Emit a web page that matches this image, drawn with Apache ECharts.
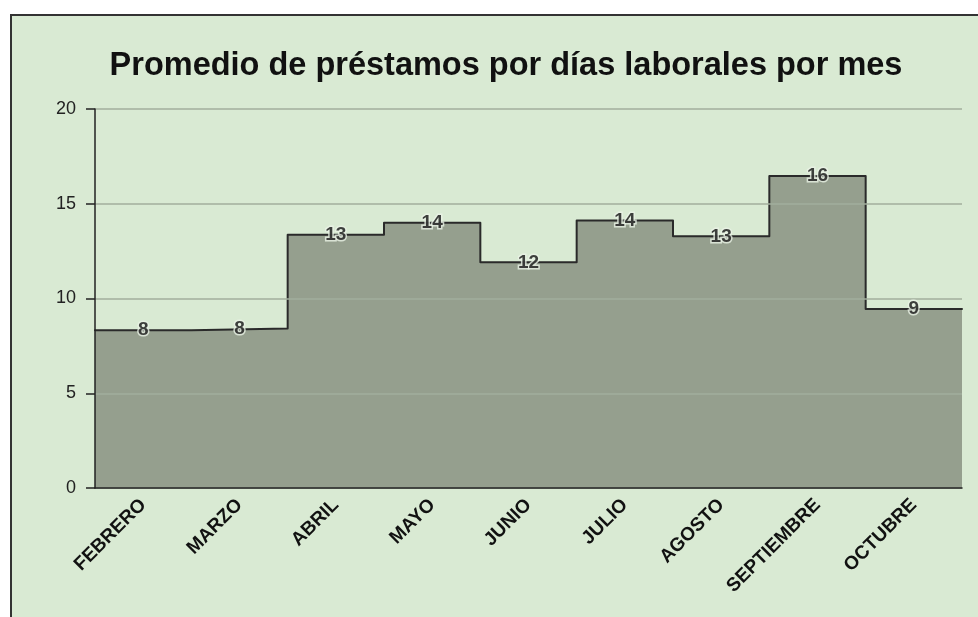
<!DOCTYPE html>
<html>
<head>
<meta charset="utf-8">
<title>Promedio de préstamos</title>
<script src="https://cdn.jsdelivr.net/npm/echarts@6/dist/echarts.min.js"></script>
<style>
	body{margin:0;background:#ffffff;overflow:hidden;}
	#frame{position:absolute;left:10px;top:14px;width:990px;height:640px;background:#d9ead3;border-top:2px solid #333;border-left:2px solid #333;}
	#main{position:absolute;left:0;top:0;width:978px;height:617px;}
</style>
</head>
<body>
<div id="frame"></div>
<div id="main"></div>
<script>
//datos
var meses=['FEBRERO','MARZO','ABRIL','MAYO','JUNIO','JULIO','AGOSTO','SEPTIEMBRE','OCTUBRE'];
var promedios=[8.33,8.42,13.36,14.0,11.91,14.11,13.28,16.47,9.44];
var yTicks=[0,5,10,15,20];

//puntos del escalon: cada mes ocupa su banda completa
var escalon=[];
for(var i=0;i<promedios.length;i++){
	escalon.push([i,promedios[i]]);
}
escalon.push([promedios.length,promedios[promedios.length-1]]);

var myChart=echarts.init(document.getElementById('main'));
var option={
	backgroundColor:'transparent',
	animation:false,
	title:{
		text:'Promedio de préstamos por días laborales por mes',
		left:501,
		top:45,
		textAlign:'center',
		textStyle:{
			fontFamily:'Liberation Sans, Arial, sans-serif',
			fontSize:32.5,
			fontWeight:'bold',
			color:'#111'
		}
	},
	grid:{left:95,right:16,top:109,bottom:129},
	xAxis:[
		{
			type:'category',
			data:meses,
			boundaryGap:true,
			axisLine:{lineStyle:{color:'#222',width:1.5}},
			axisTick:{show:false},
			axisLabel:{
				rotate:45,
				margin:14,
				interval:0,
				fontFamily:'Liberation Sans, Arial, sans-serif',
				fontSize:19,
				fontWeight:'bold',
				color:'#111'
			},
			z:5
		},
		{
			type:'value',
			min:0,
			max:meses.length,
			show:false
		}
	],
	yAxis:{
		type:'value',
		min:yTicks[0],
		max:yTicks[yTicks.length-1],
		interval:5,
		axisLine:{show:true,lineStyle:{color:'#222',width:1.5}},
		axisTick:{show:true,length:9,lineStyle:{color:'#222',width:1.5}},
		axisLabel:{
			margin:19,
			fontFamily:'Liberation Sans, Arial, sans-serif',
			fontSize:18,
			color:'#222'
		},
		splitLine:{lineStyle:{color:'#a2ae9c',width:1.5}},
		z:5
	},
	series:[
		{
			type:'line',
			xAxisIndex:1,
			data:escalon,
			step:'end',
			symbol:'none',
			lineStyle:{color:'#2a2a2a',width:2,join:'round',cap:'round'},
			areaStyle:{color:'#959f8e',opacity:1},
			z:2
		},
		{
			type:'scatter',
			xAxisIndex:0,
			data:promedios,
			symbolSize:1,
			itemStyle:{color:'transparent'},
			label:{
				show:true,
				position:'inside',
				formatter:function(p){return Math.round(p.value)},
				fontFamily:'Liberation Sans, Arial, sans-serif',
				fontSize:19,
				fontWeight:'bold',
				color:'#111',
				textBorderColor:'#eaf3e6',
				textBorderWidth:3
			},
			z:6
		}
	]
};
myChart.setOption(option);
</script>
</body>
</html>
